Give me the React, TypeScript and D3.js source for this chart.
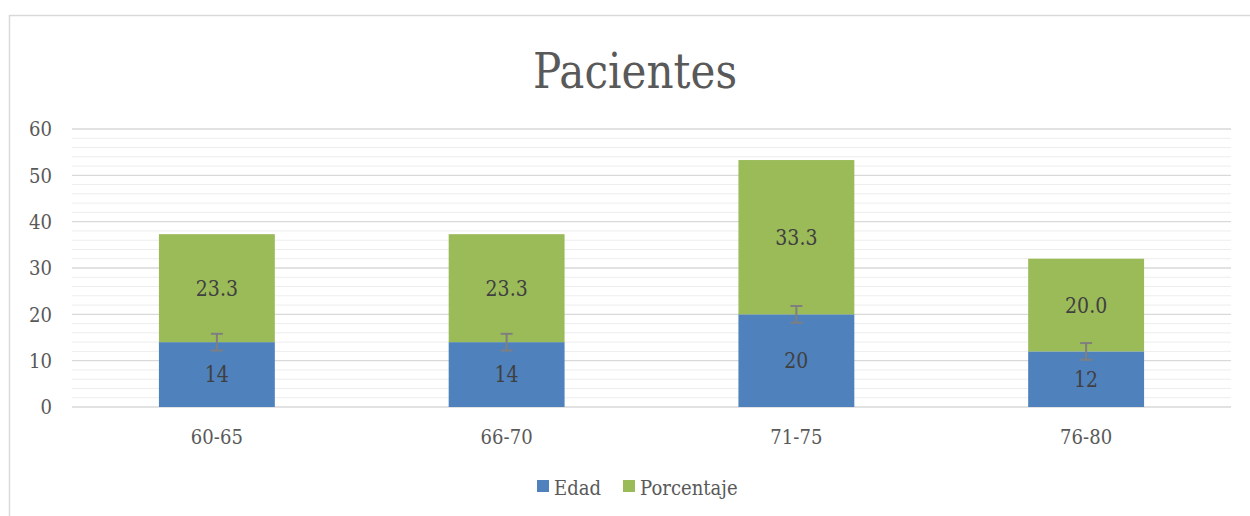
import React from "react";
import * as d3 from "d3";

const categories = ["60-65", "66-70", "71-75", "76-80"];
const edad = [14, 14, 20, 12];
const porcentaje = [23.3, 23.3, 33.3, 20.0];
const edadError = [1.8, 1.8, 1.8, 1.8];
const yTicks = [0, 10, 20, 30, 40, 50, 60];
const seriesNames = ["Edad", "Porcentaje"];
const colors = ["#4f81bd", "#9bbb59"];

const FONT = "'DejaVu Serif', serif";
const SX = 0.86;

function T(props: { x: number; y: number; size: number; fill: string; anchor?: string; dy?: string; children: React.ReactNode }) {
  const { x, y, size, fill, anchor = "start", dy, children } = props;
  return (
    <g transform={`translate(${x},${y}) scale(${SX},1)`}>
      <text x={0} y={0} dy={dy} textAnchor={anchor as any} fontSize={size} fill={fill} style={{ fontFamily: FONT }}>
        {children}
      </text>
    </g>
  );
}

export default function App() {
  const W = 1250, H = 516;
  const left = 72, right = 1231, top = 129, bottom = 407;
  const x = d3.scaleBand().domain(categories).range([left, right]).paddingInner(0.6).paddingOuter(0.3);
  const y = d3.scaleLinear().domain([0, 60]).range([bottom, top]);
  const minor = d3.range(0, 61, 2).filter((v) => v % 10 !== 0);
  return (
    <svg width={W} height={H} style={{ position: "absolute", left: 0, top: 0 }}>
      <rect x={0} y={0} width={W} height={H} fill="#fff" />
      <rect x={9.5} y={15.5} width={W} height={H} fill="none" stroke="#d9d9d9" strokeWidth={1.5} />
      <T x={635} y={88} size={49} fill="#595959" anchor="middle">Pacientes</T>
      {minor.map((v) => (
        <line key={"m" + v} x1={left} x2={right} y1={y(v)} y2={y(v)} stroke="#ededed" strokeWidth={1} />
      ))}
      {yTicks.map((v) => (
        <g key={v}>
          <line x1={left} x2={right} y1={y(v)} y2={y(v)} stroke="#d9d9d9" strokeWidth={1.3} />
          <T x={52} y={y(v)} dy="0.35em" anchor="end" size={21} fill="#595959">{v}</T>
        </g>
      ))}
      {categories.map((c, i) => {
        const bx = x(c)!;
        const bw = x.bandwidth();
        const cx = bx + bw / 2;
        const e = edad[i], p = porcentaje[i];
        return (
          <g key={c}>
            <rect x={bx} y={y(e)} width={bw} height={y(0) - y(e)} fill={colors[0]} />
            <rect x={bx} y={y(e + p)} width={bw} height={y(e) - y(e + p)} fill={colors[1]} />
            <line x1={cx} x2={cx} y1={y(e + edadError[i])} y2={y(e - edadError[i])} stroke="#7f7f7f" strokeWidth={2} />
            <line x1={cx - 6} x2={cx + 6} y1={y(e + edadError[i])} y2={y(e + edadError[i])} stroke="#7f7f7f" strokeWidth={2} />
            <line x1={cx - 6} x2={cx + 6} y1={y(e - edadError[i])} y2={y(e - edadError[i])} stroke="#7f7f7f" strokeWidth={2} />
            <T x={cx} y={(y(0) + y(e)) / 2} dy="0.35em" anchor="middle" size={22} fill="#404040">{e}</T>
            <T x={cx} y={(y(e) + y(e + p)) / 2} dy="0.35em" anchor="middle" size={22} fill="#404040">{p.toFixed(1)}</T>
            <T x={cx} y={444} anchor="middle" size={21} fill="#595959">{c}</T>
          </g>
        );
      })}
      <g>
        <rect x={537} y={480} width={12} height={12} fill={colors[0]} />
        <T x={554} y={495} size={21} fill="#595959">{seriesNames[0]}</T>
        <rect x={623} y={480} width={12} height={12} fill={colors[1]} />
        <T x={640} y={495} size={21} fill="#595959">{seriesNames[1]}</T>
      </g>
    </svg>
  );
}
